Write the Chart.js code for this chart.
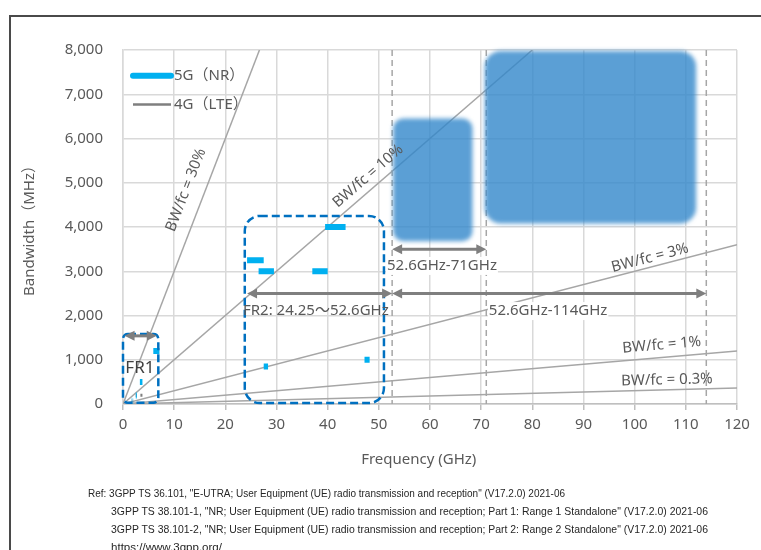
<!DOCTYPE html>
<html>
<head>
<meta charset="utf-8">
<title>Bandwidth vs Frequency</title>
<script src="https://cdn.jsdelivr.net/npm/chart.js@4.4.0/dist/chart.umd.min.js"></script>
<style>
  html, body { margin: 0; padding: 0; background: #fff; overflow: hidden; }
  #wrap { position: relative; width: 761px; height: 550px; }
  #frame { position: absolute; left: 9px; top: 15px; width: 800px; height: 600px; border: 2px solid #4a4a4a; }
  canvas { position: absolute; left: 0; top: 0; }
  .ref { position: absolute; font-family: 'Liberation Sans Narrow', 'Liberation Sans', sans-serif; font-size: 11px; color: #262626; white-space: nowrap; line-height: 14px; transform-origin: 0 50%; }
</style>
</head>
<body>
<div id="wrap">
  <div id="frame"></div>
  <canvas id="bwChart" width="761" height="550"></canvas>
  <div class="ref" data-w="477" style="left:88px;top:486px">Ref: 3GPP TS 36.101, "E-UTRA; User Equipment (UE) radio transmission and reception" (V17.2.0) 2021-06</div>
  <div class="ref" data-w="597" style="left:111px;top:504px">3GPP TS 38.101-1, "NR; User Equipment (UE) radio transmission and reception; Part 1: Range 1 Standalone" (V17.2.0) 2021-06</div>
  <div class="ref" data-w="597" style="left:111px;top:522px">3GPP TS 38.101-2, "NR; User Equipment (UE) radio transmission and reception; Part 2: Range 2 Standalone" (V17.2.0) 2021-06</div>
  <div class="ref" data-w="111" style="left:111px;top:540px">https://www.3gpp.org/</div>
</div>
<script>
// 5G NR bands: low edge (GHz), high edge (GHz), bandwidth (MHz)
const nrLow  = [0.703, 1.71, 1.92, 2.496, 3.3, 5.925, 24.25, 26.5, 27.5, 37.0, 39.5, 47.2];
const nrHigh = [0.748, 1.785, 1.98, 2.69, 3.8, 7.125, 27.5, 29.5, 28.35, 40.0, 43.5, 48.2];
const nrBw   = [45, 75, 60, 194, 500, 1200, 3250, 3000, 850, 3000, 4000, 1000];

// 4G LTE bands
const lteLow  = [0.703, 0.791, 1.71, 1.92, 2.496, 3.4, 3.6];
const lteHigh = [0.748, 0.821, 1.785, 1.98, 2.69, 3.6, 3.8];
const lteBw   = [45, 30, 75, 60, 194, 200, 200];

// BW/fc reference lines (from the origin to these end points)
const ratioNames  = ['BW/fc = 30%', 'BW/fc = 10%', 'BW/fc = 3%', 'BW/fc = 1%', 'BW/fc = 0.3%'];
const ratioEndX   = [26.67, 80, 120, 120, 120];
const ratioEndY   = [8000, 8000, 3600, 1200, 360];
const ratioLabelX = [12.3, 47.9, 103, 105.3, 106.3];
const ratioLabelY = [4836, 5150, 3300, 1333, 542];

// frequency range markers
const splitFreqs = [52.6, 71, 114];
const areaX0 = [52.8, 70.7];
const areaX1 = [68.3, 112];
const areaY0 = [3680, 4080];
const areaY1 = [6450, 7980];

// dashed FR1 / FR2 boxes
const boxNames = ['FR1', 'FR2'];
const boxX0 = [0, 23.8];
const boxX1 = [6.9, 51];
const boxY0 = [30, 20];
const boxY1 = [1580, 4250];

// double arrows
const arrowX0 = [0.3, 24.25, 52.6, 52.6];
const arrowX1 = [6.6, 52.6, 71, 114];
const arrowY  = [1540, 2500, 3500, 2500];

const rangeLabels = ['FR2: 24.25～52.6GHz', '52.6GHz-71GHz', '52.6GHz-114GHz'];
const rangeLabelX = [23.45, 51.6, 71.5];
const rangeLabelY = [2100, 3120, 2100];

const FONT = "'Noto Sans', 'Noto Sans CJK JP', sans-serif";
const TXT = '#595959';

// squeeze the reference lines to their width in the picture
document.querySelectorAll('.ref').forEach(el => {
  const w = el.getBoundingClientRect().width;
  el.style.transform = 'scaleX(' + (Number(el.dataset.w) / w) + ')';
});

function segments(lo, hi, bw) {
  let pts = [];
  lo.forEach((l, i) => {
    pts.push({x: l, y: bw[i]});
    pts.push({x: hi[i], y: bw[i]});
    pts.push({x: hi[i], y: null});
  });
  return pts;
}

let datasets = [
  {label: '5G（NR）', data: segments(nrLow, nrHigh, nrBw), borderColor: '#00b0f0', borderWidth: 6, borderCapStyle: 'butt'},
  {label: '4G（LTE）', data: segments(lteLow, lteHigh, lteBw), borderColor: '#7f7f7f', borderWidth: 3, borderCapStyle: 'butt'}
];
ratioNames.forEach((name, i) => {
  datasets.push({label: name, data: [{x: 0, y: 0}, {x: ratioEndX[i], y: ratioEndY[i]}], borderColor: '#a6a6a6', borderWidth: 1.5});
});
datasets.forEach(d => { d.showLine = true; d.pointRadius = 0; d.spanGaps = false; d.fill = false; });

function arrowHead(ctx, px, py, dir) {
  ctx.beginPath();
  ctx.moveTo(px, py);
  ctx.lineTo(px - dir * 10, py - 5);
  ctx.lineTo(px - dir * 10, py + 5);
  ctx.closePath();
  ctx.fill();
}

const overlay = {
  id: 'overlay',
  beforeDatasetsDraw(chart) {
    const {ctx, scales: {x, y}} = chart;
    ctx.save();
    ctx.strokeStyle = '#a6a6a6';
    ctx.lineWidth = 1.5;
    ctx.setLineDash([6, 4]);
    splitFreqs.forEach(f => {
      const px = x.getPixelForValue(f);
      ctx.beginPath();
      ctx.moveTo(px, y.top);
      ctx.lineTo(px, y.bottom);
      ctx.stroke();
    });
    ctx.restore();
  },
  afterDatasetsDraw(chart) {
    const {ctx, scales: {x, y}} = chart;

    // blurred translucent areas above 52.6 GHz
    ctx.save();
    ctx.filter = 'blur(2px)';
    ctx.fillStyle = 'rgba(50,135,202,0.8)';
    areaX0.forEach((x0, i) => {
      const l = x.getPixelForValue(x0), r = x.getPixelForValue(areaX1[i]);
      const t = y.getPixelForValue(areaY1[i]), b = y.getPixelForValue(areaY0[i]);
      ctx.beginPath();
      ctx.roundRect(l, t, r - l, b - t, i ? 16 : 10);
      ctx.fill();
    });
    ctx.restore();

    // dashed boxes
    ctx.save();
    ctx.strokeStyle = '#0070c0';
    ctx.lineWidth = 2.5;
    ctx.setLineDash([8, 4]);
    boxX0.forEach((x0, i) => {
      const l = x.getPixelForValue(x0), r = x.getPixelForValue(boxX1[i]);
      const t = y.getPixelForValue(boxY1[i]), b = y.getPixelForValue(boxY0[i]);
      ctx.beginPath();
      ctx.roundRect(l, t, r - l, b - t, i ? 15 : 5);
      ctx.stroke();
    });
    ctx.restore();

    // double arrows
    ctx.save();
    ctx.strokeStyle = '#7f7f7f';
    ctx.fillStyle = '#7f7f7f';
    ctx.lineWidth = 3;
    arrowX0.forEach((x0, i) => {
      const l = x.getPixelForValue(x0), r = x.getPixelForValue(arrowX1[i]);
      const py = y.getPixelForValue(arrowY[i]);
      ctx.beginPath();
      ctx.moveTo(l + 6, py);
      ctx.lineTo(r - 6, py);
      ctx.stroke();
      arrowHead(ctx, l, py, -1);
      arrowHead(ctx, r, py, 1);
    });
    ctx.restore();

    // labels
    ctx.save();
    ctx.font = '15px ' + FONT;
    ctx.textBaseline = 'middle';
    rangeLabels.forEach((txt, i) => {
      const px = x.getPixelForValue(rangeLabelX[i]), py = y.getPixelForValue(rangeLabelY[i]);
      if (i > 0) {
        const w = ctx.measureText(txt).width;
        ctx.fillStyle = '#fff';
        ctx.fillRect(px - 1, py - 9, w + 2, 18);
      }
      ctx.fillStyle = TXT;
      ctx.fillText(txt, px, py);
    });
    ctx.font = '17px ' + FONT;
    ctx.fillStyle = '#404040';
    ctx.textAlign = 'center';
    ctx.fillText(boxNames[0], x.getPixelForValue(3.3), y.getPixelForValue(815));

    ctx.font = '15px ' + FONT;
    ctx.fillStyle = TXT;
    ratioNames.forEach((txt, i) => {
      const dx = x.getPixelForValue(ratioEndX[i]) - x.getPixelForValue(0);
      const dy = y.getPixelForValue(ratioEndY[i]) - y.getPixelForValue(0);
      ctx.save();
      ctx.translate(x.getPixelForValue(ratioLabelX[i]), y.getPixelForValue(ratioLabelY[i]));
      ctx.rotate(Math.atan2(dy, dx));
      ctx.fillText(txt, 0, 0);
      ctx.restore();
    });

    // legend
    ctx.textAlign = 'left';
    ctx.font = '15px ' + FONT;
    const lx = x.getPixelForValue(0);
    [0, 1].forEach(i => {
      const ds = chart.data.datasets[i];
      const py = y.getPixelForValue(7420 - i * 650);
      ctx.strokeStyle = ds.borderColor;
      ctx.lineWidth = i ? 2.5 : 6;
      ctx.lineCap = i ? 'butt' : 'round';
      ctx.beginPath();
      ctx.moveTo(lx + 10, py);
      ctx.lineTo(lx + 48, py);
      ctx.stroke();
      ctx.fillStyle = TXT;
      ctx.fillText(ds.label, lx + 51, py);
    });
    ctx.restore();
  }
};

Chart.defaults.font.family = FONT;
Chart.defaults.color = TXT;

new Chart(document.getElementById('bwChart').getContext('2d'), {
  type: 'scatter',
  data: {datasets: datasets},
  options: {
    responsive: false,
    animation: false,
    layout: {padding: {left: 0, top: 50, right: 24, bottom: 0}},
    plugins: {legend: {display: false}, tooltip: {enabled: false}},
    scales: {
      x: {
        type: 'linear', min: 0, max: 120,
        afterFit: s => { s.height = 146; },
        ticks: {stepSize: 10, font: {size: 15}, color: TXT, padding: 6},
        grid: {color: '#d9d9d9', lineWidth: 1.5, tickLength: 6, tickColor: '#bfbfbf'},
        border: {color: '#bfbfbf', width: 1.5},
        // trailing en spaces shift the centred title a little to the left, as in the original
        title: {display: true, text: 'Frequency (GHz)\u2002\u2002\u2002', font: {size: 15}, color: TXT, padding: {top: 0, bottom: 81}}
      },
      y: {
        type: 'linear', min: 0, max: 8000,
        afterFit: s => { s.width = 123; },
        ticks: {stepSize: 1000, font: {size: 15}, color: TXT, padding: 20, callback: v => v.toLocaleString('en-US')},
        grid: {color: '#d9d9d9', lineWidth: 1.5, drawTicks: false},
        border: {color: '#d9d9d9', width: 1.5},
        title: {display: true, text: 'Bandwidth（MHz）', font: {size: 15}, color: TXT, padding: {top: 21, bottom: 0}}
      }
    }
  },
  plugins: [overlay]
});
</script>
</body>
</html>
